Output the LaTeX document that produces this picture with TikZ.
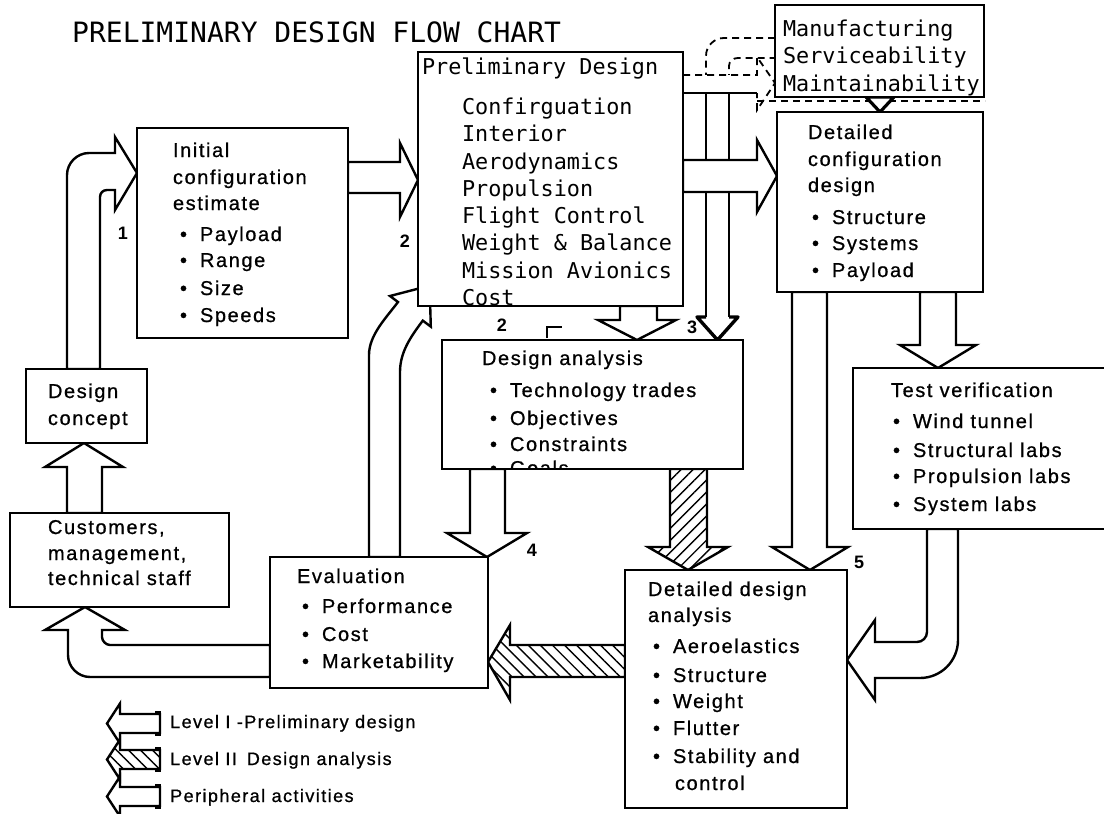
\documentclass[tikz,border=0pt]{standalone}
\usepackage{fontspec}
\setmainfont{Liberation Sans}
\newfontfamily\bxf{Liberation Sans}[LetterSpace=8,FakeBold=0.8]
\newfontfamily\mnf{DejaVu Sans Mono}
\usetikzlibrary{calc,patterns.meta}
\newcommand\bul[1]{\makebox[20pt][l]{\textbullet}#1}
\tikzset{
 box/.style={draw, line width=2.6pt, fill=white, rectangle, inner sep=0pt, outer sep=0pt},
 bx/.style={line width=2.6pt, fill=white},
 tx/.style={anchor=base west, inner sep=0pt, outer sep=0pt, font=\bxf\fontsize{20}{24}\selectfont},
 mono/.style={anchor=base west, inner sep=0pt, outer sep=0pt, font=\mnf\fontsize{21.8}{26}\selectfont},
 lbl/.style={anchor=base, inner sep=0pt, font=\bfseries\fontsize{18}{20}\selectfont},
 leg/.style={anchor=base west, inner sep=0pt, font=\bxf\fontsize{18}{22}\selectfont},
 blk/.style={draw, line width=2.4pt, fill=white, line join=miter},
 dsh/.style={line width=1.8pt, dash pattern=on 7pt off 5pt},
 hatchne/.style={draw, line width=2.4pt, preaction={fill=white}, pattern={Lines[angle=45,distance=8.5pt,line width=1.4pt]}},
 hatchnw/.style={draw, line width=2.4pt, preaction={fill=white}, pattern={Lines[angle=-45,distance=8.5pt,line width=1.4pt]}},
}
\begin{document}
\begin{tikzpicture}[x=1pt,y=-1pt]
\fill[white] (0,0) rectangle (1104,814);
\useasboundingbox (0,0) rectangle (1104,814);

% ---------- box nodes (placed first so arrows can refer to them; drawn on top later)
\path
 node[box, draw=none, fill=none, minimum width=211pt, minimum height=210pt] (ini) at (242.5,233) {}
 node[box, draw=none, fill=none, minimum width=265pt, minimum height=254pt] (pre) at (550.5,179) {}
 node[box, draw=none, fill=none, minimum width=209pt, minimum height=92pt] (man) at (879.5,51) {}
 node[box, draw=none, fill=none, minimum width=206pt, minimum height=180pt] (dcd) at (880,202) {}
 node[box, draw=none, fill=none, minimum width=121pt, minimum height=74pt] (dc) at (86.5,406) {}
 node[box, draw=none, fill=none, minimum width=219pt, minimum height=94pt] (cus) at (119.5,560) {}
 node[box, draw=none, fill=none, minimum width=218pt, minimum height=131pt] (eva) at (379,622.5) {}
 node[box, draw=none, fill=none, minimum width=301pt, minimum height=129pt] (da) at (592.5,404.5) {}
 node[box, draw=none, fill=none, minimum width=262pt, minimum height=161pt] (tv) at (984,448.5) {}
 node[box, draw=none, fill=none, minimum width=222pt, minimum height=238pt] (dda) at (736,689) {};

% ---------- arrow 3 : Manufacturing -> Design analysis (peripheral)
\fill[white] (man.west|-0,38) -- (724,38) .. controls (714,38) and (706,46) .. (706,56) -- (706,317) -- (697,317)
  -- (717.5,0|-da.north) -- (738,317) -- (729,317) -- (729,66) .. controls (729,61) and (733,58) .. (738,58) -- (man.west|-0,58) -- cycle;
\draw[dsh] (man.west|-0,38) -- (724,38) .. controls (714,38) and (706,46) .. (706,56) -- (706,93);
\draw[dsh] (729,93) -- (729,66) .. controls (729,61) and (733,58) .. (738,58) -- (man.west|-0,58);
\draw[line width=2.4pt] (706,93) -- (706,317);
\draw[line width=2.4pt] (729,93) -- (729,317);
\draw[line width=3.4pt, line join=round] (706,317) -- (697,317) -- (717.5,0|-da.north) -- (738,317) -- (729,317);

% ---------- dashed arrow : Preliminary design -> Manufacturing
\fill[white] (pre.east|-0,75) -- (757,75) -- (757,57) -- (man.west|-0,83) -- (757,110) -- (757,93) -- (pre.east|-0,93) -- cycle;
\draw[dsh] (pre.east|-0,75) -- (757,75) -- (757,57) -- (man.west|-0,83) -- (757,110) -- (757,93);
\draw[line width=2.4pt] (757,93) -- (pre.east|-0,93);
\draw[dsh] (757,101) -- (985,101);

% ---------- Level I arrows
\path[blk] (67,0|-dc.north) -- (67,175) .. controls (67,163) and (77,153) .. (89,153) -- (115,153) -- (115,137)
  -- (ini.west|-0,173) -- (115,210) -- (115,190) -- (107,190) .. controls (103,190) and (100,193) .. (100,197)
  -- (100,0|-dc.north) -- cycle;
\path[blk] (ini.east|-0,162) -- (400,162) -- (400,143) -- (pre.west|-0,180) -- (400,217) -- (400,193) -- (ini.east|-0,193) -- cycle;
\path[blk] (pre.east|-0,160) -- (757,160) -- (757,140) -- (dcd.west|-0,176) -- (757,212) -- (757,192) -- (pre.east|-0,192) -- cycle;
\path[blk] (620,0|-pre.south) -- (620,320) -- (598,320) -- (637,0|-da.north) -- (676,320) -- (657,320) -- (657,0|-pre.south) -- cycle;
\path[blk] (369,0|-eva.north) -- (369,355) .. controls (369,335) and (386,318) .. (398,302) -- (390,296) -- (429.6,285.7)
  -- (430.8,326.6) -- (422.8,320.6) .. controls (410.8,336.6) and (400,352) .. (400,372) -- (400,0|-eva.north) -- cycle;
\path[blk] (67,0|-cus.north) -- (67,467) -- (45,467) -- (84,0|-dc.south) -- (123,467) -- (102,467) -- (102,0|-cus.north) -- cycle;
\path[blk] (eva.west|-0,677) -- (90,677) .. controls (78,677) and (68,667) .. (68,655) -- (68,630) -- (45,630)
  -- (85,0|-cus.south) -- (125,630) -- (102,630) -- (102,637) .. controls (102,641) and (106,645) .. (110,645)
  -- (eva.west|-0,645) -- cycle;
\path[blk] (470,0|-da.south) -- (470,533) -- (447,533) -- (487,0|-eva.north) -- (527,533) -- (505,533) -- (505,0|-da.south) -- cycle;
\path[blk] (792,0|-dcd.south) -- (792,547) -- (772,547) -- (810,0|-dda.north) -- (848,547) -- (827,547) -- (827,0|-dcd.south) -- cycle;
\path[blk] (920,0|-dcd.south) -- (920,345) -- (900,345) -- (938,0|-tv.north) -- (976,345) -- (956,345) -- (956,0|-dcd.south) -- cycle;
\path[blk] (927,0|-tv.south) -- (927,632) .. controls (927,637.5) and (922.5,642) .. (917,642) -- (875,642) -- (875,620)
  -- (dda.east|-0,660) -- (875,700) -- (875,678) -- (920,678) .. controls (941,678) and (958,661) .. (958,640)
  -- (958,0|-tv.south) -- cycle;

% ---------- Level II (hatched) arrows
\path[hatchne] (670,0|-da.south) -- (670,547) -- (648,547) -- (688,0|-dda.north) -- (728,547) -- (707,547) -- (707,0|-da.south) -- cycle;
\path[hatchnw] (dda.west|-0,645) -- (510,645) -- (510,625) -- (eva.east|-0,662) -- (510,700) -- (510,677) -- (dda.west|-0,677) -- cycle;

% ---------- small arrow Manufacturing -> Detailed configuration design
\path[draw, line width=3.2pt, fill=white, line join=round] (866,0|-man.south) -- (894,0|-man.south) -- (880,0|-dcd.north) -- cycle;

% ---------- boxes drawn on top
\draw[bx] (ini.north west) rectangle (ini.south east);
\draw[bx] (pre.north west) rectangle (pre.south east);
\draw[bx] (man.north west) rectangle (man.south east);
\draw[bx] (dcd.north west) rectangle (dcd.south east);
\draw[bx] (dc.north west) rectangle (dc.south east);
\draw[bx] (cus.north west) rectangle (cus.south east);
\draw[bx] (eva.north west) rectangle (eva.south east);
\draw[bx] (da.north west) rectangle (da.south east);
\draw[bx] (tv.north west) rectangle (tv.south east);
\draw[bx] (dda.north west) rectangle (dda.south east);

% ---------- title
\node[anchor=base west, inner sep=0pt, font=\mnf\fontsize{28}{32}\selectfont] (title) at (72,42) {PRELIMINARY DESIGN FLOW CHART};

% ---------- Preliminary design texts
\node[mono] (pre0) at (422,74) {Preliminary Design};
\node[mono] (pre1) at (462,114) {Confirguation};
\node[mono] (pre2) at (462,141) {Interior};
\node[mono] (pre3) at (462,169) {Aerodynamics};
\node[mono] (pre4) at (462,196) {Propulsion};
\node[mono] (pre5) at (462,223) {Flight Control};
\node[mono] (pre6) at (462,250) {Weight \& Balance};
\node[mono] (pre7) at (462,278) {Mission Avionics};
\node[mono] (pre8) at (462,305) {Cost};

% ---------- Manufacturing texts
\node[mono] (man1) at (783,36) {Manufacturing};
\node[mono] (man2) at (783,63) {Serviceability};
\node[mono] (man3) at (783,91) {Maintainability};

% ---------- Initial configuration estimate
\node[tx] (ini1) at (173,157) {Initial};
\node[tx] (ini2) at (173,184) {configuration};
\node[tx] (ini3) at (173,210) {estimate};
\node[tx] (ini4) at (180,241) {\bul{Payload}};
\node[tx] (ini5) at (180,267) {\bul{Range}};
\node[tx] (ini6) at (180,295) {\bul{Size}};
\node[tx] (ini7) at (180,322) {\bul{Speeds}};

% ---------- Detailed configuration design
\node[tx] (dcd1) at (808,139) {Detailed};
\node[tx] (dcd2) at (808,166) {configuration};
\node[tx] (dcd3) at (808,192) {design};
\node[tx] (dcd4) at (812,224) {\bul{Structure}};
\node[tx] (dcd5) at (812,250) {\bul{Systems}};
\node[tx] (dcd6) at (812,277) {\bul{Payload}};

% ---------- Design concept, Customers
\node[tx] (dc1) at (48,398) {Design};
\node[tx] (dc2) at (48,425) {concept};
\node[tx] (cus1) at (48,534) {Customers,};
\node[tx] (cus2) at (48,560) {management,};
\node[tx] (cus3) at (48,585) {technical staff};

% ---------- Evaluation
\node[tx] (eva1) at (297,583) {Evaluation};
\node[tx] (eva2) at (302,613) {\bul{Performance}};
\node[tx] (eva3) at (302,641) {\bul{Cost}};
\node[tx] (eva4) at (302,668) {\bul{Marketability}};

% ---------- Design analysis
\node[tx] (da1) at (482,365) {Design analysis};
\node[tx] (da2) at (490,397) {\bul{Technology trades}};
\node[tx] (da3) at (490,425) {\bul{Objectives}};
\node[tx] (da4) at (490,451) {\bul{Constraints}};
\begin{scope}
\clip (443,341) rectangle (742,468);
\node[tx] (da5) at (490,475) {\bul{Goals}};
\end{scope}

% ---------- Test verification
\node[tx] (tv1) at (891,397) {Test verification};
\node[tx] (tv2) at (893,428) {\bul{Wind tunnel}};
\node[tx] (tv3) at (893,457) {\bul{Structural labs}};
\node[tx] (tv4) at (893,483) {\bul{Propulsion labs}};
\node[tx] (tv5) at (893,511) {\bul{System labs}};

% ---------- Detailed design analysis
\node[tx] (dda1) at (648,596) {Detailed design};
\node[tx] (dda2) at (648,622) {analysis};
\node[tx] (dda3) at (653,653) {\bul{Aeroelastics}};
\node[tx] (dda4) at (653,682) {\bul{Structure}};
\node[tx] (dda5) at (653,708) {\bul{Weight}};
\node[tx] (dda6) at (653,735) {\bul{Flutter}};
\node[tx] (dda7) at (653,763) {\bul{Stability and}};
\node[tx] (dda8) at (675,790) {control};

% ---------- number labels
\node[lbl] (n1) at (123,239) {1};
\node[lbl] (n2) at (405,247) {2};
\node[lbl] (n2b) at (502,331) {2};
\node[lbl] (n3) at (692,333) {3};
\node[lbl] (n4) at (532,556) {4};
\node[lbl] (n5) at (859,568) {5};
\draw[line width=2.4pt] (547,338) -- (547,327) -- (562,327);

% ---------- legend
\path[blk] (160,714) -- (120,714) -- (120,703.5) -- (107,723.5) -- (120,743.5) -- (120,733) -- (160,733) -- cycle;
\path[hatchnw] (160,750) -- (120,750) -- (120,739.5) -- (107,759.5) -- (120,779.5) -- (120,769) -- (160,769) -- cycle;
\path[blk] (160,787) -- (120,787) -- (120,776.5) -- (107,796.5) -- (120,816.5) -- (120,806) -- (160,806) -- cycle;
\draw[line width=2.4pt] (155,712) -- (160,712) -- (160,735) -- (155,735);
\draw[line width=2.4pt] (155,748) -- (160,748) -- (160,771) -- (155,771);
\draw[line width=2.4pt] (155,785) -- (160,785) -- (160,808) -- (155,808);
\node[leg] (lg1) at (170,728) {Level I -Preliminary design};
\node[leg] (lg2) at (170,765) {Level II\hspace{10pt}Design analysis};
\node[leg] (lg3) at (170,802) {Peripheral activities};
\end{tikzpicture}
\end{document}
